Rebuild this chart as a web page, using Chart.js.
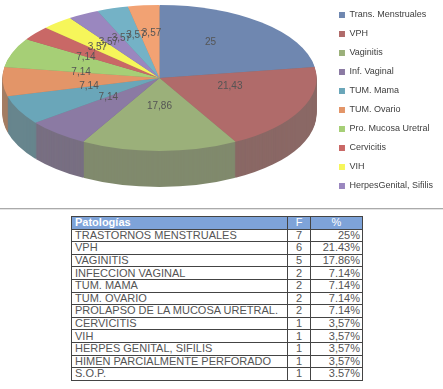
<!DOCTYPE html>
<html>
<head>
<meta charset="utf-8">
<script src="https://cdn.jsdelivr.net/npm/chart.js@4.4.0/dist/chart.umd.min.js"></script>
<style>
  body { margin: 0; background: #fff; width: 443px; height: 389px; overflow: hidden; position: relative; }
  #chartBox { position: absolute; left: 0; top: 0; width: 443px; height: 205px; }
  #rule { position: absolute; left: 0; top: 208px; width: 443px; height: 1px; background: #aaa; border-bottom: 1px solid #e4e4e4; }
  #tbl { position: absolute; left: 71px; top: 216px; border-collapse: collapse; font-family: "Liberation Sans", Arial, sans-serif; font-size: 11px; color: #555; }
  #tbl td, #tbl th { border: 1px solid #444; height: 11.6px; line-height: 11px; padding: 0 3px; white-space: nowrap; }
  #tbl th { background: #7ea3d9; color: #fff; font-weight: bold; text-align: left; }
  #tbl th.c { text-align: center; font-weight: normal; }
  #tbl td.f { text-align: center; width: 16px; }
  #tbl td.p { text-align: right; width: 46px; padding-right: 2px; }
  #tbl td.n { width: 209px; }
</style>
</head>
<body>
<div id="chartBox"><canvas id="pie"></canvas></div>
<div id="rule"></div>
<table id="tbl"></table>
<script>
// chart data
var sliceLabels = ['Trans. Menstruales', 'VPH', 'Vaginitis', 'Inf. Vaginal', 'TUM. Mama', 'TUM. Ovario',
    'Pro. Mucosa Uretral', 'Cervicitis', 'VIH', 'HerpesGenital, Sifilis', 'Himen P. Perforado', 'S.O.P.'];
var sliceValues = [25, 21.43, 17.86, 7.14, 7.14, 7.14, 7.14, 3.57, 3.57, 3.57, 3.57, 3.57];
var sliceColors = ['#6f87b0', '#b06b6a', '#9bb07a', '#8b7aa3', '#6aa6b9', '#e39568',
    '#a6cf76', '#c96866', '#f6f65a', '#9a87bf', '#74b2c6', '#f2a273'];

// table data
var tableHeader = ['Patologías', 'F', '%'];
var tableNames = ['TRASTORNOS MENSTRUALES', 'VPH', 'VAGINITIS', 'INFECCION VAGINAL', 'TUM. MAMA', 'TUM. OVARIO',
    'PROLAPSO DE LA MUCOSA URETRAL.', 'CERVICITIS', 'VIH', 'HERPES GENITAL, SIFILIS', 'HIMEN PARCIALMENTE PERFORADO', 'S.O.P.'];
var tableF = [7, 6, 5, 2, 2, 2, 2, 1, 1, 1, 1, 1];
var tablePct = ['25%', '21.43%', '17.86%', '7.14%', '7.14%', '7.14%', '7.14%', '3,57%', '3,57%', '3,57%', '3,57%', '3.57%'];

function buildTable() {
    var html = '<tr><th>' + tableHeader[0] + '</th><th class="c">' + tableHeader[1] + '</th><th class="c">' + tableHeader[2] + '</th></tr>';
    for (var i = 0; i < tableNames.length; i++) {
        html += '<tr><td class="n">' + tableNames[i] + '</td><td class="f">' + tableF[i] + '</td><td class="p">' + tablePct[i] + '</td></tr>';
    }
    document.getElementById('tbl').innerHTML = html;
}

function sideColor(hex) {
    var r = parseInt(hex.substr(1, 2), 16), g = parseInt(hex.substr(3, 2), 16), b = parseInt(hex.substr(5, 2), 16);
    var t = 0.5;
    return 'rgb(' + Math.round(r * (1 - t) + 100 * t) + ',' + Math.round(g * (1 - t) + 100 * t) + ',' + Math.round(b * (1 - t) + 96 * t) + ')';
}

// squashes the pie into an ellipse and extrudes a side wall
var tiltPlugin = {
    id: 'tilt3d',
    beforeDatasetsDraw: function(chart, args, opts) {
        var meta = chart.getDatasetMeta(0);
        var ctx = chart.ctx;
        var first = meta.data[0];
        var cx = first.x, cy = first.y, r = first.outerRadius;
        var ey = opts.top + r * opts.tilt;
        for (var d = opts.depth; d > 0; d--) {
            meta.data.forEach(function(arc, i) {
                ctx.save();
                ctx.translate(opts.shiftX, ey + d);
                ctx.scale(1, opts.tilt);
                ctx.translate(0, -cy);
                ctx.beginPath();
                ctx.moveTo(cx, cy);
                ctx.arc(cx, cy, r, arc.startAngle, arc.endAngle);
                ctx.closePath();
                ctx.fillStyle = sideColor(sliceColors[i]);
                ctx.fill();
                ctx.restore();
            });
        }
        ctx.save();
        ctx.translate(opts.shiftX, ey);
        ctx.scale(1, opts.tilt);
        ctx.translate(0, -cy);
    },
    afterDatasetsDraw: function(chart, args, opts) {
        var ctx = chart.ctx;
        ctx.restore();
        var meta = chart.getDatasetMeta(0);
        var first = meta.data[0];
        var cy = first.y, r = first.outerRadius;
        var ey = opts.top + r * opts.tilt;
        ctx.save();
        ctx.font = '10px "Liberation Sans", Arial, sans-serif';
        ctx.fillStyle = '#555';
        ctx.textAlign = 'center';
        ctx.textBaseline = 'middle';
        meta.data.forEach(function(arc, i) {
            var p = arc.tooltipPosition();
            var sy = ey + (p.y - cy) * opts.tilt - opts.labelLift;
            ctx.fillText(String(sliceValues[i]).replace('.', ','), p.x + opts.shiftX, sy);
        });
        ctx.restore();
    }
};

buildTable();

var ctx = document.getElementById('pie').getContext('2d');
var pieChart = new Chart(ctx, {
    type: 'pie',
    data: {
        labels: sliceLabels,
        datasets: [{
            data: sliceValues,
            backgroundColor: sliceColors,
            borderWidth: 0,
            clip: false
        }]
    },
    plugins: [tiltPlugin],
    options: {
        responsive: true,
        maintainAspectRatio: false,
        animation: false,
        events: [],
        radius: 157,
        layout: { padding: { left: 0, right: 0, top: -4 } },
        plugins: {
            tilt3d: { tilt: 0.465, top: 5, depth: 36, labelLift: 8, shiftX: -5 },
            tooltip: { enabled: false },
            legend: {
                position: 'right',
                labels: {
                    boxWidth: 6,
                    boxHeight: 6,
                    padding: 10,
                    color: '#404040',
                    font: { family: '"Liberation Sans", Arial, sans-serif', size: 9 },
                    filter: function(item) { return item.index < 10; }
                }
            }
        }
    }
});
</script>
</body>
</html>
